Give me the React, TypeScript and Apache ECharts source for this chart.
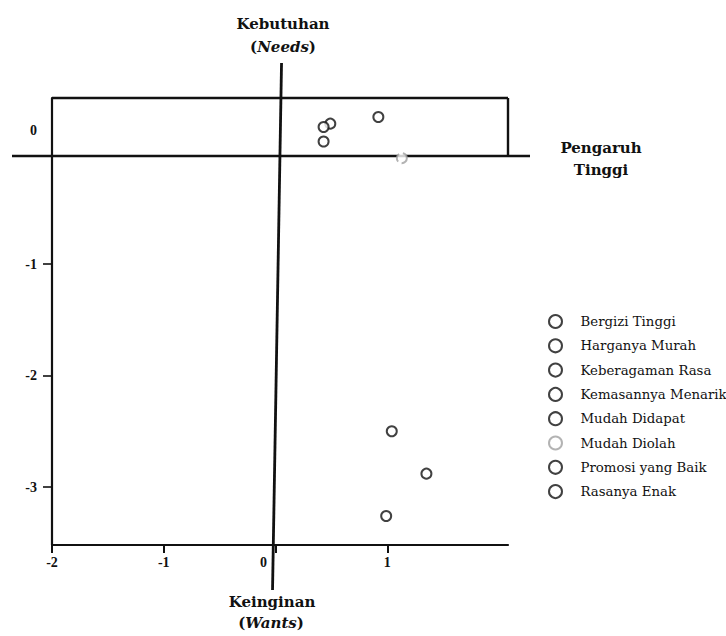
import React, { useEffect, useRef } from "react";
import * as echarts from "echarts";

const categories = [
  "Bergizi Tinggi",
  "Harganya Murah",
  "Keberagaman Rasa",
  "Kemasannya Menarik",
  "Mudah Didapat",
  "Mudah Diolah",
  "Promosi yang Baik",
  "Rasanya Enak",
];
const xValues = [0.92, 0.49, 0.43, 0.43, 1.04, 1.13, 1.35, 0.99];
const yValues = [0.32, 0.26, 0.23, 0.1, -2.5, -0.05, -2.88, -3.26];
const xTicks = [-2, -1, 0, 1];
const yTickMarks = [-3, -2, -1];
const yTickLabels = [-3, -2, -1, 0];
const hLineValue = -0.03;

const FONT = "Liberation Serif";
const TFONT = "DejaVu Serif";
const INK = "#111111";

export default function App() {
  const ref = useRef<HTMLDivElement>(null);
  useEffect(() => {
    if (!ref.current) return;
    const chart = echarts.init(ref.current, null, { renderer: "svg" });
    const series = categories.map((name, i) => {
      const faint = name === "Mudah Diolah";
      const thin = name === "Mudah Didapat" || name === "Rasanya Enak";
      return {
        name,
        type: "scatter",
        symbol: "emptyCircle",
        symbolSize: 10,
        data: [[xValues[i], yValues[i]]],
        itemStyle: {
          color: faint ? "#a0a0a0" : INK,
          borderColor: faint ? "#a0a0a0" : INK,
          borderWidth: faint ? 1.2 : thin ? 2.4 : 3,
          borderType: faint ? "dashed" : "solid",
        },
      };
    });
    chart.setOption({
      animation: false,
      backgroundColor: "#ffffff",
      grid: { left: 52, top: 98, width: 456, height: 447, outerBoundsMode: "none" },
      legend: {
        orient: "vertical",
        left: 543,
        top: 309,
        itemWidth: 40,
        itemHeight: 13,
        itemGap: 9.3,
        data: categories,
        textStyle: { fontFamily: TFONT, fontSize: 13.3, color: INK },
      },
      xAxis: {
        type: "value",
        min: -2,
        max: 2.08,
        splitLine: { show: false },
        axisLine: { show: true, onZero: false, lineStyle: { color: INK, width: 2.2 } },
        axisTick: { show: true, customValues: xTicks, length: 8, lineStyle: { color: INK, width: 2 } },
        axisLabel: {
          customValues: xTicks,
          fontFamily: FONT,
          fontWeight: "bold",
          fontSize: 14,
          color: INK,
          margin: 10,
          formatter: (v: number) => (v === 0 ? "{z|0}" : String(v)),
          rich: { z: { padding: [0, 24, 0, 0], fontFamily: FONT, fontWeight: "bold", fontSize: 14, color: INK } },
        },
      },
      yAxis: {
        type: "value",
        min: -3.52,
        max: 0.49,
        splitLine: { show: false },
        axisLine: { show: true, onZero: false, lineStyle: { color: INK, width: 2.2 } },
        axisTick: { show: true, customValues: yTickMarks, length: 9, lineStyle: { color: INK, width: 1.6 } },
        axisLabel: {
          customValues: yTickLabels,
          fontFamily: FONT,
          fontWeight: "bold",
          fontSize: 14,
          color: INK,
          margin: 15,
          formatter: (v: number) => (v === 0 ? "{z|0}" : String(v)),
          rich: { z: { padding: [0, 0, 44, 0], fontFamily: FONT, fontWeight: "bold", fontSize: 14, color: INK } },
        },
      },
      series,
    });

    const p0 = chart.convertToPixel({ gridIndex: 0 }, [0, hLineValue]) as number[];
    const pTR = chart.convertToPixel({ gridIndex: 0 }, [2.08, 0.49]) as number[];
    const pBL = chart.convertToPixel({ gridIndex: 0 }, [-2, -3.52]) as number[];
    const line = (x1: number, y1: number, x2: number, y2: number, w: number) => ({
      type: "line",
      shape: { x1, y1, x2, y2 },
      style: { stroke: INK, lineWidth: w },
      silent: true,
    });
    const txt = (x: number, y: number, text: string, rich?: any) => ({
      type: "text",
      x,
      y,
      style: {
        text,
        fontFamily: TFONT,
        fontWeight: "bold",
        fontSize: 15,
        fill: INK,
        align: "center",
        verticalAlign: "middle",
        rich,
      },
    });
    const italic = { i: { fontStyle: "italic", fontFamily: TFONT, fontWeight: "bold", fontSize: 15, fill: INK } };
    chart.setOption({
      graphic: [
        line(12, p0[1], 530, p0[1], 2.6),
        line(p0[0] + 6, 63, p0[0] - 3, 590, 2.8),
        line(pBL[0], pTR[1], pTR[0], pTR[1], 2.4),
        line(pTR[0], pTR[1], pTR[0], p0[1], 2.4),
        txt(283, 24, "Kebutuhan"),
        txt(283, 47, "({i|Needs})", italic),
        txt(272, 602, "Keinginan"),
        txt(271, 623, "({i|Wants})", italic),
        txt(601, 148, "Pengaruh"),
        txt(601, 170, "Tinggi"),
      ],
    });
    return () => chart.dispose();
  }, []);
  return (
    <div
      ref={ref}
      style={{ position: "fixed", left: 0, top: 0, width: 726, height: 636, background: "#fff" }}
    />
  );
}
